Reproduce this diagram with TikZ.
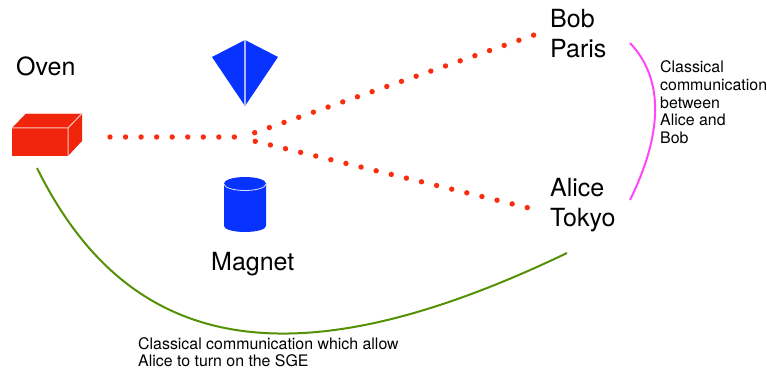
\documentclass[tikz,border=0pt]{standalone}
\usepackage{fontspec}
\setmainfont{TeX Gyre Heros}
\tikzset{
  bigtext/.style={font=\fontsize{25}{29.2}\selectfont, align=left, inner sep=0pt, anchor=north west},
  smalltext/.style={font=\fontsize{15.9}{17.8}\selectfont, align=left, inner sep=0pt, anchor=north west},
  beam/.style={draw=beamred, line width=5.4pt, line cap=round, dash pattern=on 0pt off 15.55pt},
  link/.style={line width=2pt},
}
\definecolor{beamred}{RGB}{250,45,15}
\definecolor{ovenred}{RGB}{241,36,12}
\definecolor{magnetblue}{RGB}{8,50,255}
\definecolor{commgreen}{RGB}{84,145,5}
\definecolor{commpink}{RGB}{255,70,250}
\begin{document}
\begin{tikzpicture}[x=1pt,y=-1pt]
  \useasboundingbox (0,0) rectangle (767,374);
  % oven
  \fill[ovenred] (12,128) -- (26,113.5) -- (82,113.5) -- (82,141) -- (68,156) -- (12,156) -- cycle;
  \draw[white!75!ovenred, line width=1pt] (12,128) -- (68,128) -- (68,156) (68,128) -- (82,113.5) (26,113.5) -- (82,113.5);
  % magnet top
  \fill[magnetblue] (245,40) -- (278,57) -- (245,106) -- (212,57) -- cycle;
  \draw[white!65!magnetblue, line width=1.4pt] (245,40) -- (245,106);
  % magnet bottom
  \fill[magnetblue] (224,183.5) arc (180:360:21 and 6.5) -- (266,226) arc (0:180:21 and 6) -- cycle;
  \draw[white!85!magnetblue, line width=0.8pt] (224,184) arc (180:0:21 and 6.5);
  % nodes
  \node[bigtext] (oven) at (16,56.5) {Oven};
  \node[bigtext] (magnet) at (211,252.5) {Magnet};
  \node[bigtext] (bob) at (550,9.5) {Bob\\Paris};
  \node[bigtext] (alice) at (550,178.5) {Alice\\Tokyo};
  \node[smalltext] (bobnote) at (660,60.5) {Classical\\communication\\between\\Alice and\\Bob};
  \node[smalltext] (sgenote) at (138,337) {Classical communication which allow\\Alice to turn on the SGE};
  % beams
  \coordinate (source) at (110,137);
  \coordinate (split) at (236,137);
  \coordinate (upstart) at (254.7,132.7);
  \coordinate (upend) at (534,35);
  \coordinate (downstart) at (255.3,141.3);
  \coordinate (downend) at (529,208);
  \draw[beam] (source) -- (split);
  \draw[beam] (upstart) -- (upend);
  \draw[beam] (downstart) -- (downend);
  % classical links
  \coordinate (ovenfoot) at (37,168);
  \coordinate (alicefoot) at (567,253);
  \coordinate (bobside) at (630,43);
  \coordinate (aliceside) at (630,200);
  \draw[link, commgreen] (ovenfoot) .. controls (128,352) and (290,386) .. (alicefoot);
  \draw[link, commpink] (bobside) .. controls (665,80) and (662,135) .. (aliceside);
\end{tikzpicture}
\end{document}
